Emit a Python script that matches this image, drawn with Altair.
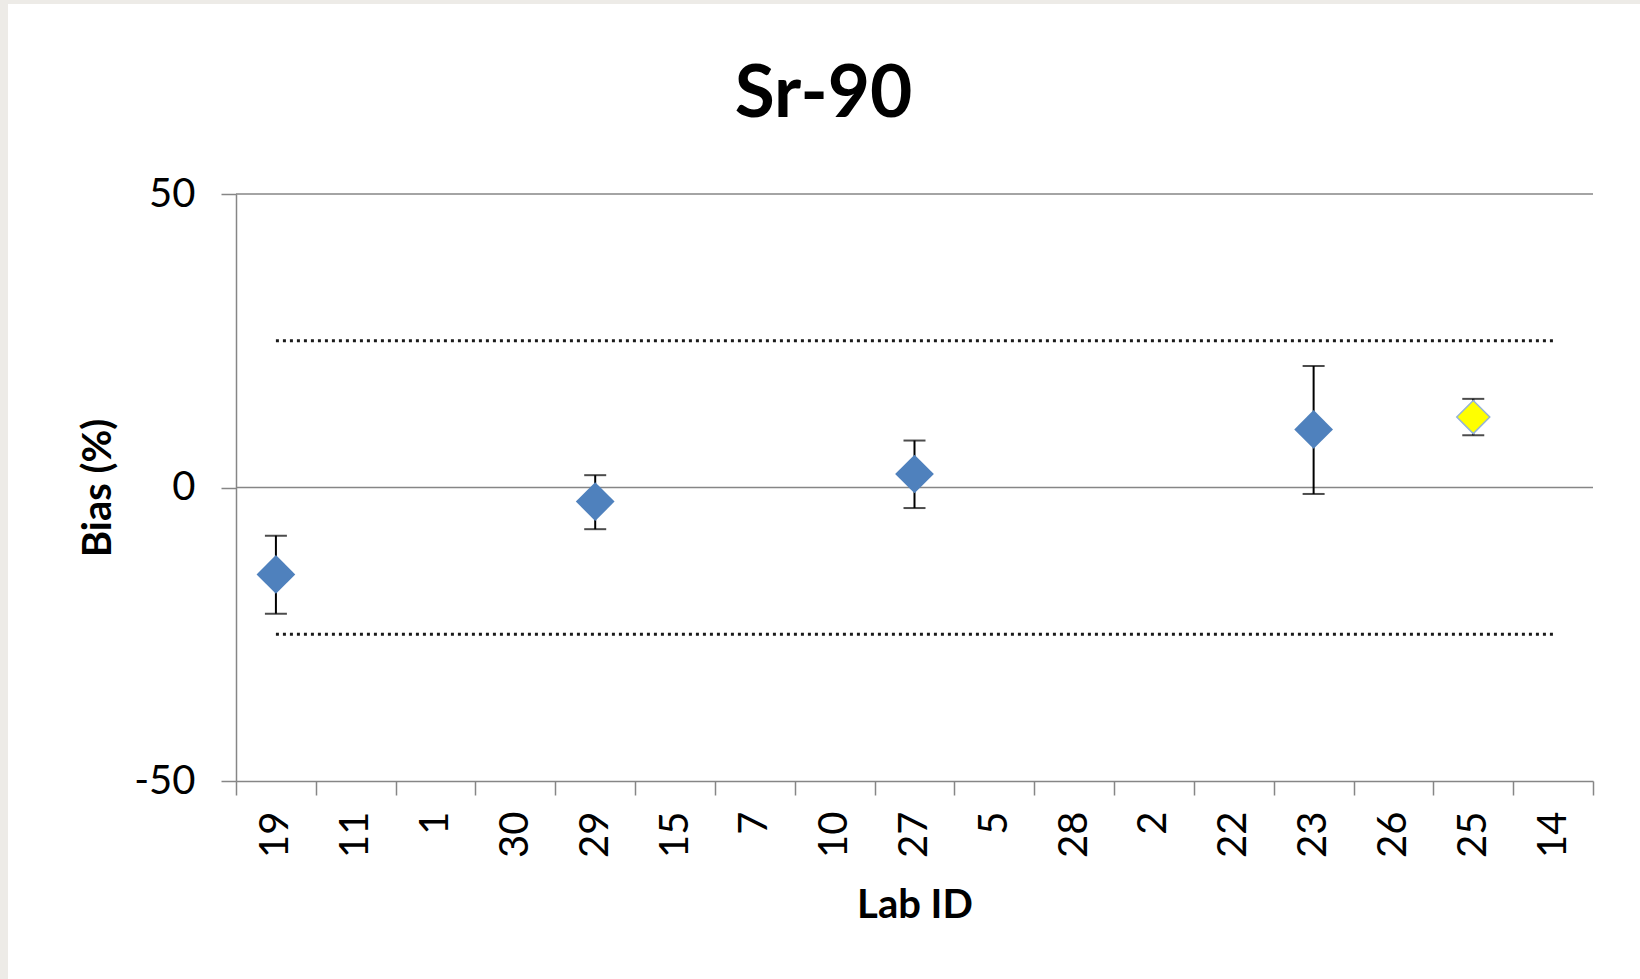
import altair as alt
import pandas as pd

# ---- data ----
labs = ["19", "11", "1", "30", "29", "15", "7", "10", "27", "5", "28", "2", "22", "23", "26", "25", "14"]
point_labs = ["19", "29", "27", "23", "25"]
bias = [-14.8, -2.4, 2.3, 9.9, 12.0]
lower = [-21.5, -7.1, -3.5, -1.1, 8.9]
upper = [-8.2, 2.1, 8.0, 20.7, 15.1]
group = ["lab", "lab", "lab", "lab", "ref"]
limits = [25, -25]
grid_vals = [50, 0]
y_ticks = [-50, 0, 50]

pts = pd.DataFrame({"lab": point_labs, "bias": bias, "lower": lower, "upper": upper, "group": group})
lim = pd.DataFrame([{"lab": l, "limit": v} for v in limits for l in (labs[0], labs[-1])])
grid = pd.DataFrame({"g": grid_vals})

W, H = 1357, 587
PL, PT = 236, 194

xenc = alt.X("lab:N", sort=labs, scale=alt.Scale(domain=labs, paddingInner=0, paddingOuter=0),
             axis=alt.Axis(title="Lab ID", tickBand="extent", labelAngle=-90, labelAlign="right",
                           labelBaseline="middle", labelPadding=16, tickSize=14,
                           titleY=136, titleBaseline="alphabetic", zindex=2))
yscale = alt.Scale(domain=[-50, 50], nice=False, zero=False)
yaxis = alt.Axis(title="Bias (%)", values=y_ticks, tickSize=15, labelPadding=26,
                 labelExpr="'' + datum.value",
                 titleX=-126, titleBaseline="alphabetic", zindex=2)

bg = alt.Chart(pd.DataFrame({"a": [0]})).mark_rect(color="white").encode(
    x=alt.value(8 - PL), x2=alt.value(1640 - PL), y=alt.value(4 - PT), y2=alt.value(979 - PT))

gridrules = alt.Chart(grid).mark_rule(color="#868686", strokeWidth=1.5).encode(
    y=alt.Y("g:Q", scale=yscale, axis=yaxis))

limlines = alt.Chart(lim).mark_line(color="#1a1a1a", strokeWidth=3.2, strokeDash=[3, 4]).encode(
    x=xenc, y=alt.Y("limit:Q", scale=yscale, axis=yaxis), detail="limit:N")

bars = alt.Chart(pts).mark_rule(color="black", strokeWidth=2).encode(
    x=xenc, y=alt.Y("lower:Q", scale=yscale, axis=yaxis), y2="upper:Q")
cap_lo = alt.Chart(pts).mark_tick(color="black", size=22, thickness=2).encode(
    x=xenc, y=alt.Y("lower:Q", scale=yscale, axis=yaxis))
cap_hi = alt.Chart(pts).mark_tick(color="black", size=22, thickness=2).encode(
    x=xenc, y=alt.Y("upper:Q", scale=yscale, axis=yaxis))

blue = alt.Chart(pts).transform_filter(alt.datum.group == "lab").mark_point(
    shape="diamond", filled=True, size=1500, color="#4F81BD", opacity=1).encode(
    x=xenc, y=alt.Y("bias:Q", scale=yscale, axis=yaxis))
yellow = alt.Chart(pts).transform_filter(alt.datum.group == "ref").mark_point(
    shape="diamond", filled=True, size=1090, fill="#FFFF00", stroke="#95B3D7", strokeWidth=1.5,
    opacity=1).encode(
    x=xenc, y=alt.Y("bias:Q", scale=yscale, axis=yaxis))

chart = alt.layer(bg, gridrules, limlines, bars, cap_lo, cap_hi, blue, yellow).properties(
    width=W, height=H,
    autosize=alt.AutoSizeParams(type="none"),
    padding={"left": PL, "top": PT, "right": 1640 - PL - W, "bottom": 979 - PT - H},
    background="#EDEBE7",
    title=alt.TitleParams("Sr-90", font="Lato", fontSize=73, fontWeight="bold", color="black",
                          anchor="middle", frame="group", dx=-91, offset=-186, baseline="alphabetic"),
).configure_view(stroke=None).configure_axis(
    grid=False, domainColor="#868686", domainWidth=1.5, tickColor="#868686", tickWidth=1.5,
    labelFont="Lato", labelFontSize=40, labelColor="black",
    titleFont="Lato", titleFontSize=40, titleFontWeight="bold", titleColor="black",
)

chart.save("out.html", embed_options={"renderer": "svg", "actions": False})
